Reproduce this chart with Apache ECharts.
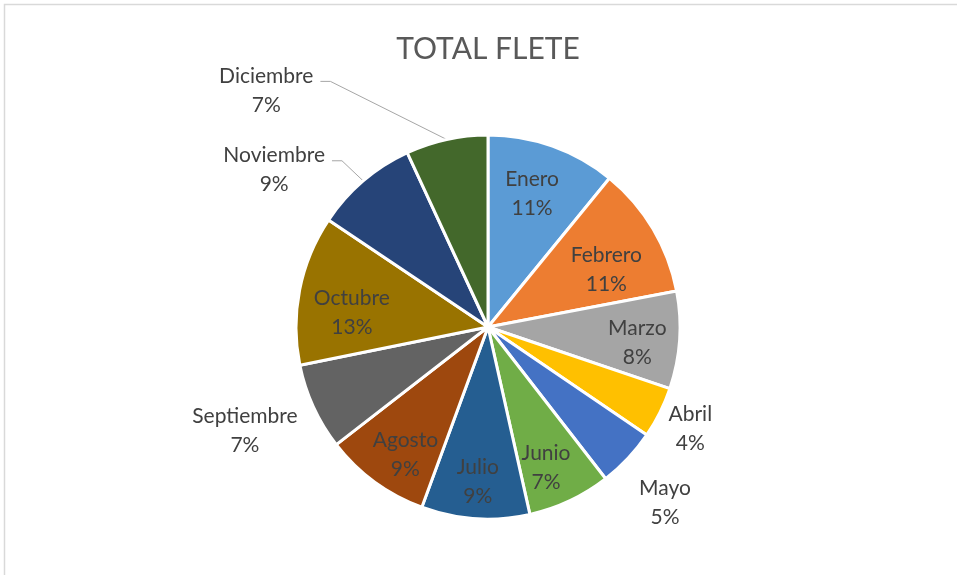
<!DOCTYPE html>
<html>
<head>
<meta charset="utf-8">
<script src="https://cdn.jsdelivr.net/npm/echarts@6/dist/echarts.min.js"></script>
<style>
  html, body { margin: 0; padding: 0; background: #ffffff; }
  #chart { width: 957px; height: 575px; }
</style>
</head>
<body>
<div id="chart"></div>
<script>
// ---- data ----
const categories = ['Enero', 'Febrero', 'Marzo', 'Abril', 'Mayo', 'Junio', 'Julio', 'Agosto', 'Septiembre', 'Octubre', 'Noviembre', 'Diciembre'];
const values = [10.9, 11.1, 8.2, 4.3, 5.0, 7.0, 9.1, 8.9, 7.3, 12.6, 8.7, 6.9];
const titleText = 'TOTAL FLETE';

// ---- style ----
const colors = ['#5B9BD5', '#ED7D31', '#A5A5A5', '#FFC000', '#4472C4', '#70AD47', '#255E91', '#9E480E', '#636363', '#997300', '#264478', '#43682B'];
// label placement: distance of label centre from pie centre, angular shift (deg), leader line flag
const labelDist = [141, 132, 150, 226, 249, 151, 154, 151, 264, 137, 266, 325];
const labelShift = [-1.4, 4.5, 1.5, 0, 1.5, 2.6, 0, -3, 1.7, -4.7, -13, -30.6];
const leader = [0, 0, 0, 0, 0, 0, 0, 0, 0, 0, 1, 1];

const CX = 488, CY = 327, R = 192;
const FONT = 'Lato, "Open Sans", sans-serif';

const chart = echarts.init(document.getElementById('chart'), null, { renderer: 'canvas' });

const pieData = categories.map(function (name, i) {
  return {
    name: name,
    value: values[i],
    itemStyle: { color: colors[i] },
    label: { position: leader[i] ? 'outside' : 'inside' },
    labelLine: { show: !!leader[i] }
  };
});

const option = {
  animation: false,
  backgroundColor: '#ffffff',
  textStyle: { fontFamily: FONT },
  title: {
    text: titleText,
    left: CX,
    top: 34,
    padding: 0,
    textAlign: 'center',
    textVerticalAlign: 'top',
    textStyle: { fontFamily: FONT, fontSize: 30, fontWeight: 'normal', color: '#595959' }
  },
  graphic: [{
    type: 'rect',
    silent: true,
    shape: { x: 4.5, y: 4.5, width: 1200, height: 1200 },
    style: { fill: 'none', stroke: '#d9d9d9', lineWidth: 1.5 }
  }],
  series: [{
    type: 'pie',
    center: [CX, CY],
    radius: [0, R],
    startAngle: 90,
    clockwise: true,
    avoidLabelOverlap: false,
    emphasis: { disabled: true },
    itemStyle: { borderColor: '#ffffff', borderWidth: 3 },
    label: {
      show: true,
      color: '#404040',
      fontFamily: FONT,
      fontSize: 21,
      lineHeight: 29,
      formatter: function (p) { return p.name + '\n' + Math.round(p.percent) + '%'; }
    },
    labelLine: {
      length: 10,
      length2: 10,
      lineStyle: { color: '#a6a6a6', width: 1 }
    },
    labelLayout: function (p) {
      const i = p.dataIndex;
      let ax, ay;
      if (leader[i] && p.labelLinePoints) {
        ax = p.labelLinePoints[0][0];
        ay = p.labelLinePoints[0][1];
      } else {
        ax = p.labelRect.x + p.labelRect.width / 2;
        ay = p.labelRect.y + p.labelRect.height / 2;
      }
      const base = Math.atan2(ax - CX, -(ay - CY));
      const a = base + labelShift[i] * Math.PI / 180;
      const x = CX + labelDist[i] * Math.sin(a);
      const y = CY - labelDist[i] * Math.cos(a) + 1;
      const res = { x: x, y: y, align: 'center', verticalAlign: 'middle' };
      if (leader[i] && p.labelLinePoints) {
        const p0 = p.labelLinePoints[0];
        const side = x < CX ? 1 : -1;
        const ex = x + side * (p.labelRect.width / 2 + 7);
        const ly = y - 9;
        res.labelLinePoints = [p0, [ex + side * 10, ly], [ex, ly]];
      }
      return res;
    },
    data: pieData
  }]
};

chart.setOption(option);
</script>
</body>
</html>
